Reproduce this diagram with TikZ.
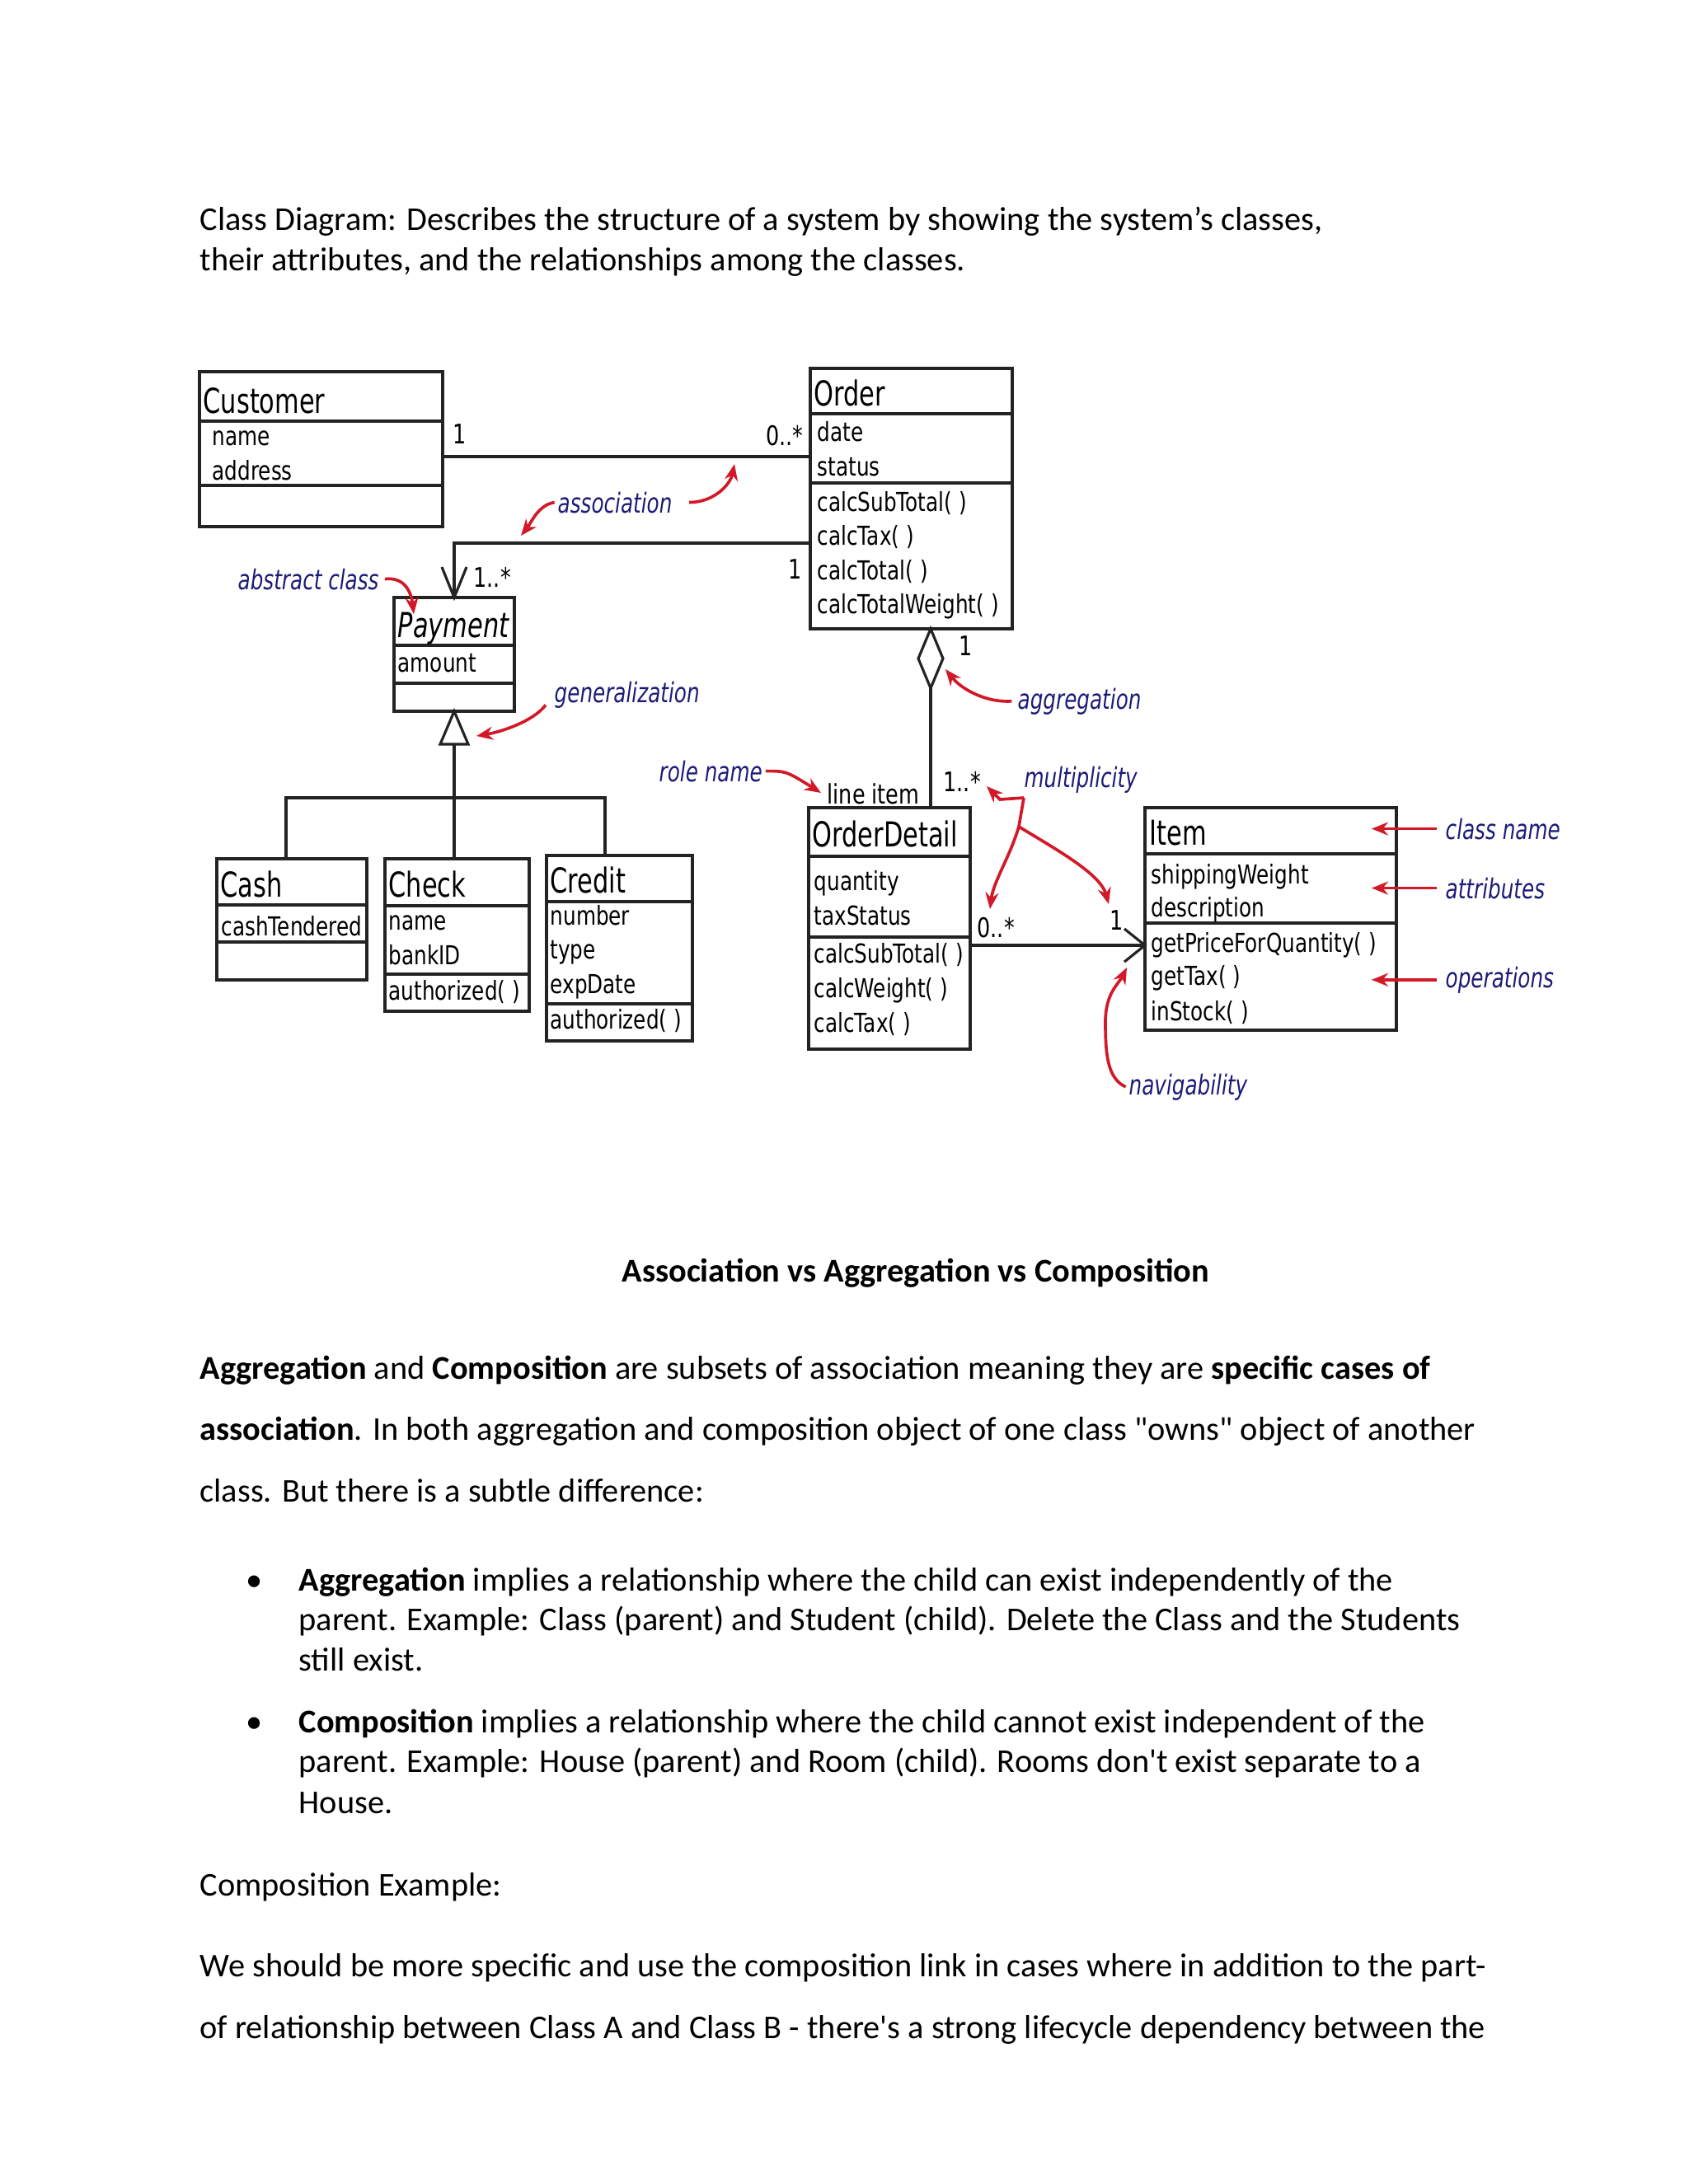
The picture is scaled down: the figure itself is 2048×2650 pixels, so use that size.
\documentclass[tikz,border=0pt]{standalone}
\usepackage{fontspec}
\setmainfont{Carlito}
\newfontfamily\diagfont[FakeStretch=0.78]{DejaVu Sans}
\newfontfamily\titlefont[FakeStretch=0.73]{DejaVu Sans}
\newfontfamily\notefont[FakeStretch=0.74]{DejaVu Sans}
\usetikzlibrary{arrows.meta,fit}
\definecolor{notecol}{RGB}{28,28,120}
\definecolor{redarr}{RGB}{210,25,40}
\definecolor{boxline}{RGB}{35,35,35}
\tikzset{
 cls/.style={draw=boxline, line width=0.95pt, inner sep=0pt, outer sep=0pt, rectangle},
 sep/.style={draw=boxline, line width=0.95pt},
 conn/.style={draw=boxline, line width=0.95pt},
 ttl/.style={anchor=base west, inner sep=0pt, font=\titlefont\fontsize{12.5}{15}\selectfont},
 ttli/.style={anchor=base west, inner sep=0pt, font=\titlefont\itshape\fontsize{12.5}{15}\selectfont},
 attr/.style={anchor=base west, inner sep=0pt, font=\diagfont\fontsize{9.5}{11}\selectfont},
 mult/.style={anchor=base west, inner sep=0pt, font=\diagfont\fontsize{9.8}{11}\selectfont},
 note/.style={anchor=base west, inner sep=0pt, text=notecol, font=\notefont\itshape\fontsize{10}{12}\selectfont},
 rarrow/.style={draw=redarr, line width=1.1pt, -{Stealth[length=6pt,width=4.8pt]}},
 rline/.style={draw=redarr, line width=1.1pt},
 body/.style={anchor=base west, inner sep=0pt, font=\fontsize{12.1}{14.5}\selectfont},
}
\begin{document}
\begin{tikzpicture}[x=0.29993pt,y=-0.29993pt]
\fill[white] (0,0) rectangle (2048,2650);
\useasboundingbox (0,0) rectangle (2048,2650);

% ---------- header text ----------
\node[body] (h1) at (242,279) {Class Diagram: Describes the structure of a system by showing the system’s classes,};
\node[body] (h2) at (242,328) {their attributes, and the relationships among the classes.};

% ---------- Customer ----------
\node[cls, fit={(242,451)(537,639)}] (cust) {};
\draw[sep] (cust.west |- 0,511) -- (cust.east |- 0,511);
\draw[sep] (cust.west |- 0,589) -- (cust.east |- 0,589);
\node[ttl] (custT) at (246,501) {Customer};
\node[attr] (custA1) at (257,540) {name};
\node[attr] (custA2) at (257,582) {address};

% ---------- Order ----------
\node[cls, fit={(983,447)(1228,763)}] (order) {};
\draw[sep] (order.west |- 0,502) -- (order.east |- 0,502);
\draw[sep] (order.west |- 0,586) -- (order.east |- 0,586);
\node[ttl] (orderT) at (987,492) {Order};
\node[attr] (orderA1) at (991,535) {date};
\node[attr] (orderA2) at (991,577) {status};
\node[attr] (orderM1) at (991,620) {calcSubTotal( )};
\node[attr] (orderM2) at (991,661) {calcTax( )};
\node[attr] (orderM3) at (991,703) {calcTotal( )};
\node[attr] (orderM4) at (991,744) {calcTotalWeight( )};

% ---------- Payment ----------
\node[cls, fit={(478,725)(624,863)}] (pay) {};
\draw[sep] (pay.west |- 0,783) -- (pay.east |- 0,783);
\draw[sep] (pay.west |- 0,829) -- (pay.east |- 0,829);
\node[ttli] (payT) at (482,773) {Payment};
\node[attr] (payA1) at (482,815) {amount};

% ---------- Cash ----------
\node[cls, fit={(263,1042)(445,1189)}] (cash) {};
\draw[sep] (cash.west |- 0,1098) -- (cash.east |- 0,1098);
\draw[sep] (cash.west |- 0,1143) -- (cash.east |- 0,1143);
\node[ttl] (cashT) at (267,1088) {Cash};
\node[attr] (cashA1) at (268,1135) {cashTendered};

% ---------- Check ----------
\node[cls, fit={(467,1042)(642,1227)}] (check) {};
\draw[sep] (check.west |- 0,1099) -- (check.east |- 0,1099);
\draw[sep] (check.west |- 0,1182) -- (check.east |- 0,1182);
\node[ttl] (checkT) at (471,1088) {Check};
\node[attr] (checkA1) at (471,1128) {name};
\node[attr] (checkA2) at (471,1170) {bankID};
\node[attr] (checkM1) at (471,1213) {authorized( )};

% ---------- Credit ----------
\node[cls, fit={(663,1038)(840,1263)}] (credit) {};
\draw[sep] (credit.west |- 0,1094) -- (credit.east |- 0,1094);
\draw[sep] (credit.west |- 0,1218) -- (credit.east |- 0,1218);
\node[ttl] (creditT) at (667,1083) {Credit};
\node[attr] (creditA1) at (667,1122) {number};
\node[attr] (creditA2) at (667,1163) {type};
\node[attr] (creditA3) at (667,1205) {expDate};
\node[attr] (creditM1) at (667,1248) {authorized( )};

% ---------- OrderDetail ----------
\node[cls, fit={(981,980)(1177,1273)}] (od) {};
\draw[sep] (od.west |- 0,1039) -- (od.east |- 0,1039);
\draw[sep] (od.west |- 0,1137) -- (od.east |- 0,1137);
\node[ttl] (odT) at (985,1027) {OrderDetail};
\node[attr] (odA1) at (987,1080) {quantity};
\node[attr] (odA2) at (987,1122) {taxStatus};
\node[attr] (odM1) at (987,1168) {calcSubTotal( )};
\node[attr] (odM2) at (987,1210) {calcWeight( )};
\node[attr] (odM3) at (987,1252) {calcTax( )};

% ---------- Item ----------
\node[cls, fit={(1389,980)(1694,1250)}] (item) {};
\draw[sep] (item.west |- 0,1036) -- (item.east |- 0,1036);
\draw[sep] (item.west |- 0,1120) -- (item.east |- 0,1120);
\node[ttl] (itemT) at (1394,1025) {Item};
\node[attr] (itemA1) at (1396,1072) {shippingWeight};
\node[attr] (itemA2) at (1396,1112) {description};
\node[attr] (itemM1) at (1396,1155) {getPriceForQuantity( )};
\node[attr] (itemM2) at (1396,1195) {getTax( )};
\node[attr] (itemM3) at (1396,1238) {inStock( )};

% ---------- connectors ----------
% Customer -- Order
\draw[conn] (cust.east |- 0,554) -- (order.west |- 0,554);
% Order -- Payment (navigable)
\draw[conn] (order.west |- 0,659) -| (pay.north);
\draw[conn] ([shift={(-15,-37)}]pay.north) -- (pay.north) -- ([shift={(15,-37)}]pay.north);
% generalization
\coordinate (gbase) at (551,903);
\coordinate (gj) at (551,968);
\draw[conn, fill=white] (pay.south) -- ([xshift=-5.1pt]gbase) -- ([xshift=5.1pt]gbase) -- cycle;
\draw[conn] (gbase) -- (gj);
\draw[conn] (cash.north -| 347,0) -- (347,968) -- (734,968) -- (credit.north -| 734,0);
\draw[conn] (gj) -- (check.north -| gj);
% aggregation
\coordinate (dtop) at (order.south -| 1129,0);
\coordinate (dbot) at (1129,835);
\draw[conn, fill=white] (dtop) -- ++(15,36) -- (dbot) -- ++(-15,-36) -- cycle;
\draw[conn] (dbot) -- (od.north -| dbot);
% navigability OrderDetail -> Item
\coordinate (navtip) at (item.west |- 0,1147);
\draw[conn] (od.east |- navtip) -- (navtip);
\draw[conn] ([shift={(-25,-20)}]navtip) -- (navtip) -- ([shift={(-25,20)}]navtip);

% ---------- multiplicities / roles ----------
\node[mult] (m1) at (549,538) {1};
\node[mult, anchor=base east] (m2) at (975,540) {0..*};
\node[mult, anchor=base east] (m3) at (973,702) {1};
\node[mult] (m4) at (574,712) {1..*};
\node[mult] (m5) at (1163,795) {1};
\node[mult] (m6) at (1003,975) {line item};
\node[mult] (m7) at (1144,960) {1..*};
\node[mult] (m8) at (1185,1137) {0..*};
\node[mult] (m9) at (1346,1128) {1};

% ---------- annotations ----------
\node[note] (nAssoc) at (676,622) {association};
\node[note] (nAbs) at (288,715) {abstract class};
\node[note] (nGen) at (672,852) {generalization};
\node[note] (nRole) at (799,948) {role name};
\node[note] (nMult) at (1242,955) {multiplicity};
\node[note] (nAgg) at (1234,860) {aggregation};
\node[note] (nCN) at (1753,1018) {class name};
\node[note] (nAt) at (1753,1090) {attributes};
\node[note] (nOp) at (1753,1198) {operations};
\node[note] (nNav) at (1369,1328) {navigability};

\coordinate (aL) at (632,650);
\coordinate (aR) at (891,563);
\coordinate (abT) at (502,745);
\coordinate (gT) at (578,893);
\coordinate (rT) at (996,962);
\coordinate (agT) at (1147,812);
\coordinate (mJ1) at (1242,968);
\coordinate (mK) at (1213,970);
\coordinate (mJ2) at (1236,1003);
\coordinate (mT1) at (1197,954);
\coordinate (mT2) at (1201,1103);
\coordinate (mT3) at (1345,1097);
\coordinate (nvM) at (1341,1240);
\coordinate (nvT) at (1367,1174);

\draw[rarrow] ([xshift=-1pt]nAssoc.west) .. controls +(-20,3) and +(12,-15) .. (aL);
\draw[rarrow] ([xshift=6pt]nAssoc.east) .. controls +(30,0) and +(-5,25) .. (aR);
\draw[rarrow] ([xshift=2pt]nAbs.east) .. controls +(25,-3) and +(-3,-25) .. (abT);
\draw[rarrow] ([xshift=-3pt,yshift=-1pt]nGen.base west) .. controls +(-15,20) and +(30,-5) .. (gT);
\draw[rarrow] ([xshift=1pt]nRole.east) .. controls +(25,0) .. (rT);
\draw[rarrow] ([xshift=-2pt]nAgg.west) .. controls +(-30,2) and +(20,25) .. (agT);
\draw[rarrow] (mJ1) -- (mK) -- (mT1);
\draw[rline] (mJ1) -- (mJ2);
\draw[rarrow] (mJ2) .. controls (1225,1040) and (1205,1070) .. (mT2);
\draw[rarrow] (mJ2) .. controls (1280,1030) and (1335,1060) .. (mT3);
\draw[rarrow] ([xshift=-3pt]nCN.west) -- ([xshift=-9pt]item.east |- nCN.west);
\draw[rarrow] ([xshift=-3pt]nAt.west) -- ([xshift=-9pt]item.east |- nAt.west);
\draw[rarrow] ([xshift=-3pt]nOp.west) -- ([xshift=-9pt]item.east |- nOp.west);
\draw[rarrow] ([xshift=-1pt]nNav.west) .. controls +(-22,-10) and +(0,40) .. (nvM) .. controls +(0,-35) and +(-10,20) .. (nvT);

% ---------- body text ----------
\node[body, anchor=base] (title) at (1111,1555) {\textbf{Association vs Aggregation vs Composition}};
\node[body] (p1) at (242,1673) {\textbf{Aggregation} and \textbf{Composition} are subsets of association meaning they are \textbf{specific cases of}};
\node[body] (p2) at (242,1747) {\textbf{association}. In both aggregation and composition object of one class \textquotedbl owns\textquotedbl{} object of another};
\node[body] (p3) at (242,1822) {class. But there is a subtle difference:};
\node[body] (b1) at (298,1930) {•};
\node[body] (b1a) at (362,1930) {\textbf{Aggregation} implies a relationship where the child can exist independently of the};
\node[body] (b1b) at (362,1978) {parent. Example: Class (parent) and Student (child). Delete the Class and the Students};
\node[body] (b1c) at (362,2027) {still exist.};
\node[body] (b2) at (298,2102) {•};
\node[body] (b2a) at (362,2102) {\textbf{Composition} implies a relationship where the child cannot exist independent of the};
\node[body] (b2b) at (362,2150) {parent. Example: House (parent) and Room (child). Rooms don\textquotesingle t exist separate to a};
\node[body] (b2c) at (362,2200) {House.};
\node[body] (c1) at (242,2300) {Composition Example:};
\node[body] (c2) at (242,2398) {We should be more specific and use the composition link in cases where in addition to the part-};
\node[body] (c3) at (242,2473) {of relationship between Class A and Class B - there\textquotesingle s a strong lifecycle dependency between the};
\end{tikzpicture}
\end{document}
